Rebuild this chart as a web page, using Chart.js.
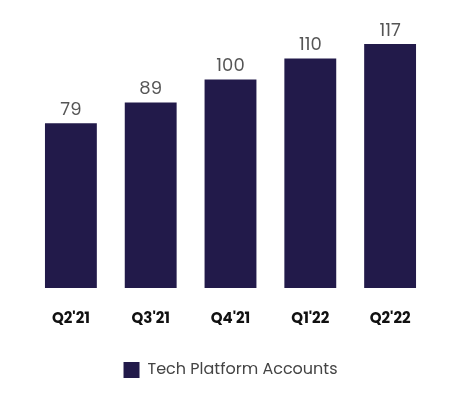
<!DOCTYPE html>
<html>
<head>
<meta charset="utf-8">
<script src="https://cdn.jsdelivr.net/npm/chart.js@4"></script>
<style>
  html, body { margin: 0; padding: 0; background: #fff; }
  #wrap { width: 460px; height: 400px; }
</style>
</head>
<body>
<div id="wrap"><canvas id="accounts-chart"></canvas></div>
<script>
const quarters = ["Q2'21", "Q3'21", "Q4'21", "Q1'22", "Q2'22"]
const accounts = [79, 89, 100, 110, 117]

// draws the value above each bar
const valueLabels = {
    id: 'valueLabels',
    afterDatasetsDraw(chart) {
        const ctx = chart.ctx
        ctx.save()
        ctx.fillStyle = '#555555'
        ctx.font = '18px Poppins, "Open Sans", sans-serif'
        ctx.textAlign = 'center'
        ctx.textBaseline = 'bottom'
        chart.getDatasetMeta(0).data.forEach((bar, i) => {
            ctx.fillText(accounts[i], bar.x, bar.y - 4)
        })
        ctx.restore()
    }
}

new Chart('accounts-chart', {
    type: 'bar',
    data: {
        labels: quarters,
        datasets: [{
            label: 'Tech Platform Accounts',
            data: accounts,
            backgroundColor: '#221a4a',
            barPercentage: 0.65,
            categoryPercentage: 1
        }]
    },
    options: {
        responsive: true,
        maintainAspectRatio: false,
        animation: false,
        layout: { padding: { top: 44, left: 31, right: 30, bottom: 12 } },
        scales: {
            x: {
                grid: { display: false },
                border: { display: false },
                ticks: {
                    color: '#111111',
                    font: { family: 'Poppins, "Open Sans", sans-serif', size: 15, weight: 'bold' },
                    padding: 14
                }
            },
            y: { display: false, min: 0, max: 117 }
        },
        plugins: {
            tooltip: { enabled: false },
            legend: {
                position: 'bottom',
                labels: {
                    color: '#444444',
                    boxWidth: 16,
                    boxHeight: 16,
                    padding: 20,
                    font: { family: 'Poppins, "Open Sans", sans-serif', size: 16 }
                }
            }
        }
    },
    plugins: [valueLabels]
})
</script>
</body>
</html>
